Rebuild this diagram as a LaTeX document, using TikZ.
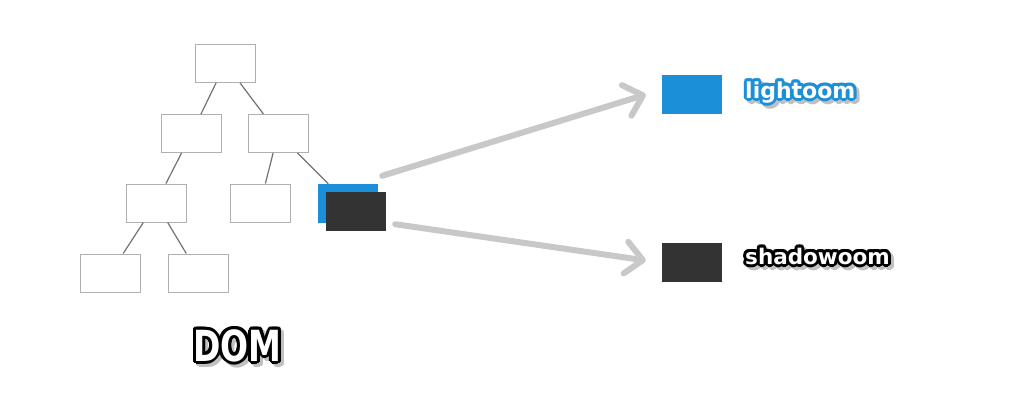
\documentclass[tikz,border=0pt]{standalone}
\usepackage{fontspec}
\newfontfamily\pixfont{DejaVu Sans}
\usepackage{tikz}
\usetikzlibrary{arrows.meta,positioning,calc}

\definecolor{domblue}{RGB}{27,143,216}
\definecolor{domdark}{RGB}{51,51,51}
\definecolor{boxline}{RGB}{176,176,176}
\definecolor{treeline}{RGB}{115,115,115}
\definecolor{flowgray}{RGB}{200,200,200}
\definecolor{dropgray}{RGB}{192,192,192}

% outlined label: name, point, size, y stretch, outline colour, text
\newcommand{\pixlabel}[6]{%
  \foreach \a in {0,30,...,330}
    \node[pix, text=dropgray] at ($(#2)+(3,3)+(\a:3)$) {\fontsize{#3}{#3}\selectfont\scalebox{1}[#4]{#6}};
  \foreach \a in {0,30,...,330}
    \node[pix, text=#5] at ($(#2)+(\a:3)$) {\fontsize{#3}{#3}\selectfont\scalebox{1}[#4]{#6}};
  \node[pix, text=white] (#1) at (#2) {\fontsize{#3}{#3}\selectfont\scalebox{1}[#4]{#6}};
}

\begin{document}
\begin{tikzpicture}[
  x=1pt, y=-1pt,
  elem/.style={draw=boxline, line width=1pt, fill=white, minimum width=60pt, minimum height=38pt, inner sep=0pt},
  solid box/.style={minimum width=60pt, minimum height=39pt, inner sep=0pt},
  link/.style={draw=treeline, line width=1.2pt},
  flow/.style={draw=flowgray, line width=6pt, line cap=round,
    -{Straight Barb[length=17pt,width=32pt,round]}},
  pix/.style={anchor=base west, inner sep=0pt, font=\pixfont\bfseries}
]
\fill[white] (0,0) rectangle (1024,400);
\useasboundingbox (0,0) rectangle (1024,400);

% tree
\node[elem] (root) at (225.5,63.5) {};
\node[elem] (l2a)  at (191.5,133.5) {};
\node[elem] (l2b)  at (278,133.5) {};
\node[elem] (l3a)  at (156,203) {};
\node[elem] (l3b)  at (260.5,203) {};
\node[elem] (l4a)  at (110.5,273) {};
\node[elem] (l4b)  at (198,273) {};
\node[solid box, fill=domblue] (light) at (348,203.5) {};
\node[solid box, fill=domdark] (shadow) at (356,211.5) {};

\draw[link] (root) -- (l2a);
\draw[link] (root) -- (l2b);
\draw[link] (l2a) -- (l3a);
\draw[link] (l2b) -- (l3b);
\draw[link] (l2b) -- (light);
\draw[link] (l3a) -- (l4a);
\draw[link] (l3a) -- (l4b);

% targets
\node[solid box, fill=domblue] (lightkey)  at (692,94.5) {};
\node[solid box, fill=domdark] (shadowkey) at (692,262.5) {};

\draw[flow] ($(shadow.north east)+(-4,-16)$) -- ($(lightkey.west)+(-16,0)$);
\draw[flow] ($(shadow.south east)+(9,-7)$) -- ($(shadowkey.west)+(-16,-2)$);

% labels
\pixlabel{lighttext}{745,98}{22pt}{1}{domblue}{lightoom}
\pixlabel{shadowtext}{745,264}{21.5pt}{1}{black}{shadowoom}
\pixlabel{domtext}{193,361}{33pt}{1.3}{black}{DOM}
\end{tikzpicture}
\end{document}
